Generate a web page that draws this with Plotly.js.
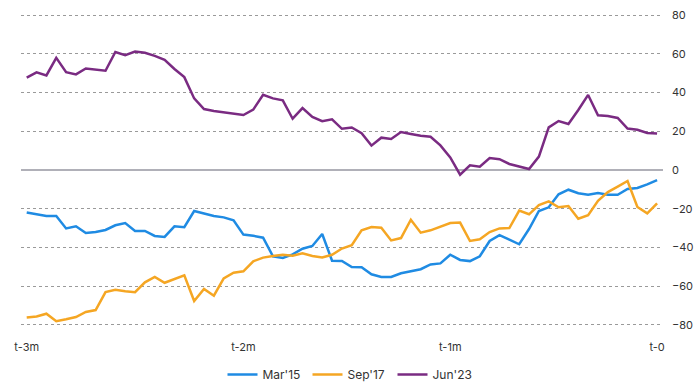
<!DOCTYPE html>
<html>
<head>
<meta charset="utf-8">
<script src="https://cdn.plot.ly/plotly-3.0.1.min.js"></script>
<style>html,body{margin:0;padding:0;background:#fff;}#chart{width:700px;height:389px;}</style>
</head>
<body>
<div id="chart"></div>
<script>
var tickLabels = ["t-3m", "t-2m", "t-1m", "t-0"];
var tickPositions = [0, 22, 43, 64];
var seriesNames = ["Mar'15", "Sep'17", "Jun'23"];

var mar15 = [-22, -22.9, -23.8, -23.8, -30.2, -29.1, -32.6, -32.1, -31, -28.6, -27.4, -31.5, -31.5, -34.1, -34.6, -29.1, -29.6,
  -21.2, -22.4, -23.8, -24.5, -26, -33.4, -34, -35, -44.6, -45.5, -43.6, -40.7, -39.3, -33.1, -46.9, -47,
  -50.2, -50.3, -53.9, -55.3, -55.3, -53.4, -52.4, -51.3, -48.8, -48.3, -43.8, -46.5, -47.1, -44.6, -36.7, -33.7,
  -36, -38.4, -30.5, -21.2, -19.3, -12.6, -10.2, -12, -12.8, -11.9, -12.8, -12.8, -9.8, -9.3, -7.4, -5.2];

var sep17 = [-76.2, -75.7, -74.3, -78.2, -77.2, -76, -73.4, -72.4, -63.1, -61.9, -62.7, -63.2, -58.1, -55.3, -58.3, -56.4, -54.5,
  -67.7, -61.5, -65, -56, -53.1, -52.4, -47.2, -45.3, -44.5, -43.8, -44.3, -43.1, -44.5, -45.2, -43.8, -40.6,
  -38.9, -31.2, -29.5, -29.8, -36.4, -35.2, -25.7, -32.4, -31.2, -29.1, -27.4, -27.2, -36.7, -35.8, -32.1, -30.2,
  -30, -21, -22.9, -18.1, -16.2, -19.3, -18.6, -25.2, -23.4, -15.9, -11.4, -8.6, -5.7, -19.1, -22.4, -17.2];

var jun23 = [47.7, 50.5, 48.9, 58, 50.6, 49.4, 52.5, 52, 51.3, 61, 59.4, 61.2, 60.6, 59, 57, 52.2, 48,
  37, 31.5, 30.5, 29.8, 29.3, 28.4, 31.2, 38.9, 37, 36, 26.5, 32, 27.4, 25.2, 26.2, 21.3,
  22, 19, 12.6, 16.7, 16, 19.6, 18.6, 17.7, 17.2, 12.7, 6.5, -2.4, 2.4, 1.7, 6.2, 5.6,
  3.1, 1.9, 0.5, 6.9, 22, 25.3, 23.8, 31, 38.8, 28.3, 27.9, 26.9, 21.4, 20.8, 19.1, 18.8];

var colors = ["#1f8be3", "#f5a623", "#7a2b82"];
var allSeries = [mar15, sep17, jun23];

var traces = allSeries.map(function (vals, k) {
  return {
    x: vals.map(function (_, i) { return i; }),
    y: vals,
    type: "scatter",
    mode: "lines",
    name: seriesNames[k],
    line: { color: colors[k], width: 2.5 },
    hoverinfo: "skip"
  };
});

var layout = {
  width: 700,
  height: 389,
  margin: { l: 21, r: 37, t: 10, b: 54 },
  paper_bgcolor: "#ffffff",
  plot_bgcolor: "#ffffff",
  font: { family: "Inter, 'Open Sans', sans-serif", size: 11, color: "#333333" },
  showlegend: true,
  legend: {
    orientation: "h",
    xref: "container",
    x: 0.5,
    xanchor: "center",
    yref: "container",
    y: 0.0,
    yanchor: "bottom",
    font: { size: 12, color: "#333333" },
    itemwidth: 30,
    entrywidth: 40,
    entrywidthmode: "pixels",
    traceorder: "normal"
  },
  xaxis: {
    range: [-0.58, 64.6],
    tickvals: tickPositions,
    ticktext: tickLabels,
    showgrid: false,
    zeroline: false,
    showline: false,
    ticks: "",
    ticklabelstandoff: 4,
    fixedrange: true
  },
  yaxis: {
    side: "right",
    range: [-85.3, 82.7],
    tickvals: [-80, -60, -40, -20, 0, 20, 40, 60, 80],
    showgrid: true,
    gridcolor: "#9a9a9a",
    griddash: "dot",
    gridwidth: 1,
    zeroline: true,
    zerolinecolor: "#b0b0b8",
    zerolinewidth: 2,
    showline: false,
    ticks: "",
    ticklabelstandoff: 8,
    fixedrange: true
  }
};

Plotly.newPlot("chart", traces, layout, { displayModeBar: false, staticPlot: true });
</script>
</body>
</html>
